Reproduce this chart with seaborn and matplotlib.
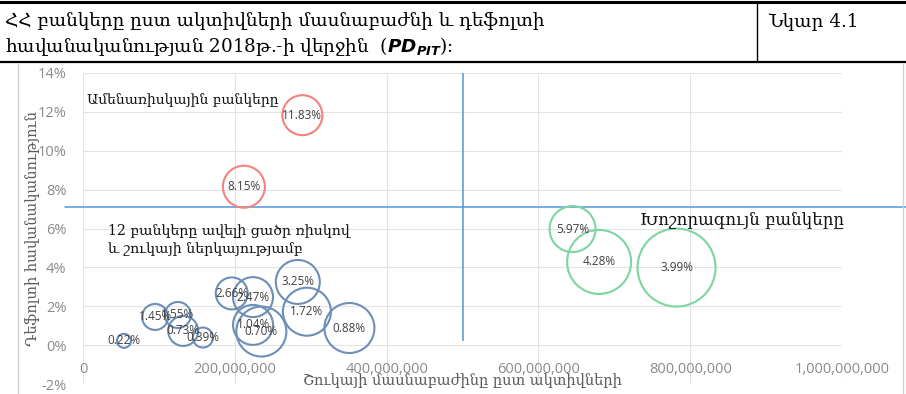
import matplotlib
matplotlib.use("Agg")
import matplotlib.pyplot as plt
import seaborn as sns
import pandas as pd
import numpy as np
from matplotlib.lines import Line2D
from matplotlib.ticker import FuncFormatter

# ---------------- data ----------------
market_share = [289e6, 212e6, 645e6, 680e6, 782e6,
                54e6, 95e6, 125e6, 132e6, 158e6, 196e6, 224e6, 224e6, 235e6, 283e6, 295e6, 351e6]
pd_values = [11.83, 8.15, 5.97, 4.28, 3.99,
             0.22, 1.45, 1.55, 0.73, 0.39, 2.66, 2.47, 1.04, 0.70, 3.25, 1.72, 0.88]
bubble_size = [400, 441, 529, 1024, 1521,
               49, 169, 169, 225, 100, 256, 400, 400, 625, 484, 576, 625]
group = ["risky"] * 2 + ["largest"] * 3 + ["other"] * 12
group_colors = {"risky": "#f3837c", "largest": "#7dd5a2", "other": "#6d8fb7"}

x_ticks = [0, 200e6, 400e6, 600e6, 800e6, 1000e6]
y_ticks = [-2, 0, 2, 4, 6, 8, 10, 12, 14]

title_line1 = "ՀՀ բանկերը ըստ ակտիվների մասնաբաժնի և դեֆոլտի"
title_line2 = "հավանականության 2018թ.-ի վերջին  ("
figure_label = "Նկար 4.1"
x_title = "Շուկայի մասնաբաժինը ըստ ակտիվների"
y_title = "Դեֆոլտի հավանականություն"
note_risky = "Ամենառիսկային բանկերը"
note_low = "12 բանկերը ավելի ցածր ռիսկով\nև շուկայի ներկայությամբ"
note_large = "Խոշորագույն բանկերը"

df = pd.DataFrame({"x": market_share, "y": pd_values, "s": bubble_size, "g": group})

# ---------------- figure ----------------
W, H = 906, 394
fig = plt.figure(figsize=(W / 100, H / 100), dpi=100)
sns.set_style("white")
plt.rcParams["font.family"] = ["DejaVu Serif", "DejaVu Sans"]

def fx(px):
    return px / W

def fy(py):
    return 1 - py / H

ax = fig.add_axes([fx(83), fy(384), fx(842 - 83), (384 - 73) / H])
ax.set_facecolor("none")

r2pt = (2 * 0.72) ** 2
sns.scatterplot(data=df, x="x", y="y", hue="g", palette=group_colors,
                size="s", sizes=(min(bubble_size) * r2pt, max(bubble_size) * r2pt),
                size_norm=(min(bubble_size), max(bubble_size)),
                legend=False, ax=ax, linewidth=1.5, zorder=3)
coll = ax.collections[-1]
fcs = coll.get_facecolors()
coll.set_edgecolors(fcs)
coll.set_facecolors("none")
coll.set_linewidths(1.5)

for xv, yv in zip(market_share, pd_values):
    ax.text(xv, yv, f"{yv:.2f}%", ha="center", va="center", fontsize=8.5,
            color="#404040", family="Open Sans", zorder=4)

ax.set_xlim(0, 1000e6)
ax.set_ylim(-2, 14)
ax.set_xticks(x_ticks)
ax.set_yticks(y_ticks)
ax.xaxis.set_major_formatter(FuncFormatter(lambda v, p: f"{v:,.0f}"))
ax.yaxis.set_major_formatter(FuncFormatter(lambda v, p: f"{v:.0f}%"))
ax.grid(True, color="#e3e3e3", linewidth=0.8, zorder=0)
ax.set_axisbelow(True)
for s in ["top", "right", "left"]:
    ax.spines[s].set_visible(False)
ax.spines["bottom"].set_position(("data", 0))
ax.spines["bottom"].set_visible(False)
ax.tick_params(axis="x", length=0, pad=12, labelsize=10.5, labelcolor="#8a8a8a")
ax.tick_params(axis="y", length=0, pad=12, labelsize=10.5, labelcolor="#8a8a8a")
for lab in ax.get_xticklabels() + ax.get_yticklabels():
    lab.set_family("Open Sans")
ax.set_xlabel("")
ax.set_ylabel("")

# divider lines
ax.axhline(7.1, xmin=(65 - 83) / 759, xmax=(906 - 83) / 759, color="#4f9ad9",
           linewidth=1.1, clip_on=False, zorder=2)
ax.vlines(500e6, 0.2, 14, color="#4f9ad9", linewidth=1.1, zorder=2)

# annotations
ax.text(5e6, 12.6, note_risky, fontsize=10, color="#111111", va="center", ha="left")
ax.text(33e6, 5.4, note_low, fontsize=10.2, color="#111111", va="center", ha="left",
        linespacing=1.35)
ax.text(734e6, 6.45, note_large, fontsize=12, color="#111111", va="center", ha="left")

# axis titles
fig.text(fx(462), fy(381), x_title, ha="center", va="center", fontsize=10.5, color="#595959")
fig.text(fx(33), fy(228), y_title, ha="center", va="center", rotation=90,
         fontsize=10.5, color="#595959")

# header table
fig.add_artist(Line2D([0, 1], [fy(2), fy(2)], color="black", linewidth=2.2))
fig.add_artist(Line2D([0, 1], [fy(62), fy(62)], color="black", linewidth=1.6))
fig.add_artist(Line2D([fx(757), fx(757)], [fy(2), fy(62)], color="black", linewidth=1))
fig.text(fx(5), fy(21), title_line1, ha="left", va="center", fontsize=13.2, color="black")
fig.text(fx(5), fy(47), title_line2 + r"$\boldsymbol{PD}_{\boldsymbol{PIT}}$):",
         ha="left", va="center", fontsize=13.2, color="black")
fig.text(fx(768), fy(21), figure_label, ha="left", va="center", fontsize=13.2, color="black")

# chart frame
fig.add_artist(Line2D([fx(18), fx(18)], [fy(63), 0], color="#d0d0d0", linewidth=1))
fig.add_artist(Line2D([fx(903), fx(903)], [fy(63), 0], color="#d0d0d0", linewidth=1))

fig.savefig("out.png", dpi=100)
